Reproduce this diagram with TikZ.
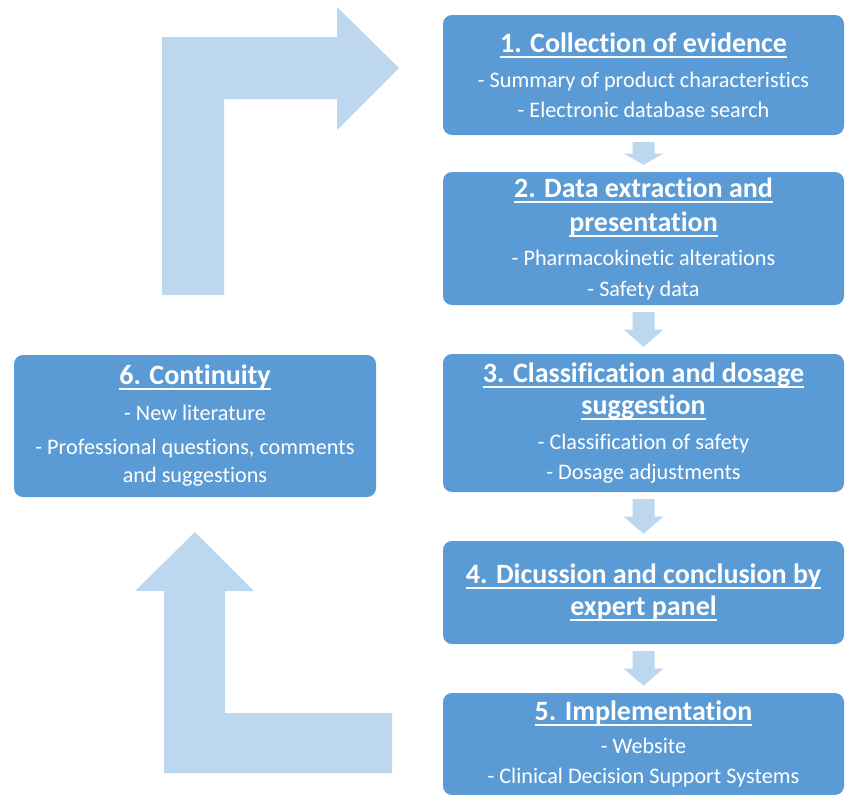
\documentclass[tikz,border=0pt]{standalone}
\usepackage{fontspec}
\setmainfont{Carlito}[Ligatures=NoCommon]
\usetikzlibrary{calc}
\definecolor{boxblue}{HTML}{5B9BD5}
\definecolor{arrowblue}{HTML}{BDD7EE}
\newcommand{\boxtitle}[1]{{\fontsize{28}{34}\selectfont\bfseries\setbox0\hbox{#1}\rlap{\rule[-5.5pt]{\wd0}{2pt}}\box0}}
\tikzset{
    stepbox/.style={rectangle,rounded corners=9pt,fill=boxblue,text=white,align=center,inner sep=0pt,minimum width=401pt,font=\fontsize{22.2}{30}\selectfont},
    bigarrow/.style={fill=arrowblue},
    smallarrow/.style={fill=arrowblue}
}

\begin{document}
\begin{tikzpicture}[x=1pt,y=-1pt]
    \useasboundingbox (0,0) rectangle (849,795);

    \node[stepbox,minimum height=120pt] (box 1) at (643.5,75)  {\boxtitle{1. Collection of evidence}\\[5pt] - Summary of product characteristics\\ - Electronic database search};
    \node[stepbox,minimum height=133pt] (box 2) at (643.5,238.5) {\boxtitle{2. Data extraction and}\\[4pt] \boxtitle{presentation}\\[4pt] - Pharmacokinetic alterations\\[1pt] - Safety data};
    \node[stepbox,minimum height=138pt] (box 3) at (643.5,423) {\boxtitle{3. Classification and dosage}\\[2pt] \boxtitle{suggestion}\\[5pt] - Classification of safety\\ - Dosage adjustments};
    \node[stepbox,minimum height=103pt] (box 4) at (643.5,592.5) {\boxtitle{4. Dicussion and conclusion by}\\[2pt] \boxtitle{expert panel}};
    \node[stepbox,minimum height=102pt] (box 5) at (643.5,744) {\boxtitle{5. Implementation}\\[3pt] - Website\\ - Clinical Decision Support Systems};
    \node[stepbox,minimum width=362pt,minimum height=142pt] (box 6) at (195,426) {\boxtitle{6. Continuity}\\[6pt] - New literature\\[4pt] - Professional questions, comments\\[-2pt] and suggestions};

    \foreach \a/\b in {1/2,2/3,3/4,4/5} {
        \coordinate (top) at ([yshift=-7pt]box \a.south);
        \coordinate (tip) at ([yshift=7pt]box \b.north);
        \coordinate (neck) at ($(top)!0.5!(tip)$);
        \fill[smallarrow] ([xshift=-11pt]top) -- ([xshift=11pt]top) -- ([xshift=11pt]neck) -- ([xshift=20pt]neck)
            -- (tip) -- ([xshift=-20pt]neck) -- ([xshift=-11pt]neck) -- cycle;
    }

    \fill[bigarrow] (162,295) -- (162,37) -- (337,37) -- (337,7) -- (399,68) -- (337,130) -- (337,99) -- (224,99) -- (224,295) -- cycle;
    \fill[bigarrow] (164,773) -- (164,591) -- (135,591) -- (195,532) -- (254,591) -- (225,591) -- (225,713) -- (392,713) -- (392,773) -- cycle;
\end{tikzpicture}
\end{document}
